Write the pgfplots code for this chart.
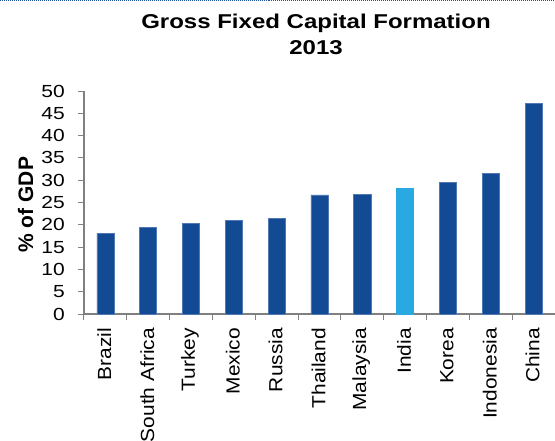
\documentclass[border=0pt]{standalone}
\usepackage{fontspec}
\setmainfont{Liberation Sans}
\newfontfamily\titlefont{Liberation Sans}[FakeStretch=1.2]
\newfontfamily\tickfont{Liberation Sans}[FakeStretch=1.2]
\newfontfamily\xlabfont{Liberation Sans}[FakeStretch=1.1]
\newfontfamily\ylabfont{Liberation Sans}[FakeStretch=1.0]
\usepackage{pgfplots}
\pgfplotsset{compat=1.18}
\definecolor{barblue}{RGB}{18,74,148}
\definecolor{baredge}{RGB}{80,120,180}
\definecolor{indiablue}{RGB}{41,169,225}
\definecolor{axgray}{RGB}{128,128,128}
\definecolor{dotblue}{RGB}{31,78,154}
\begin{document}
\begin{tikzpicture}
\path[use as bounding box] (-84bp,-127bp) rectangle (471bp,314bp);
\begin{axis}[
  scale only axis, width=471bp, height=223bp,
  xmin=-0.5, xmax=10.5, ymin=0, ymax=50,
  axis x line*=bottom, axis y line*=left,
  axis line style={-, draw=axgray, line width=1.2bp},
  tick align=outside, major tick length=6bp,
  tick style={draw=axgray, line width=1bp},
  ytick={0,5,...,50},
  yticklabel style={font=\tickfont\fontsize{17.5bp}{18bp}\selectfont, inner sep=0pt, xshift=-13bp},
  /pgf/number format/assume math mode=true,
  xtick={-0.5,0.5,...,10.5}, xticklabels={},
  extra x ticks={0,1,2,3,4,5,6,7,8,9,10},
  extra x tick labels={Brazil,South Africa,Turkey,Mexico,Russia,Thailand,Malaysia,India,Korea,Indonesia,China},
  extra x tick style={major tick length=0pt,
    xticklabel style={yshift=-14bp, xshift=-1bp, rotate=90, anchor=east, inner sep=0pt,
      font=\xlabfont\fontsize{19bp}{20bp}\selectfont}},
  ylabel={\bfseries\% of GDP},
  ylabel style={font=\ylabfont\fontsize{21bp}{22bp}\selectfont, at={(axis description cs:-0.124,0.49)}, anchor=center, rotate=0},
  title={\bfseries Gross Fixed Capital Formation\\\bfseries 2013},
  title style={font=\titlefont\fontsize{20bp}{26bp}\selectfont, align=center, at={(axis description cs:0.4926,1.229)}, anchor=center},
  ybar, bar shift=0pt, bar width=0.4,
  clip=false,
]
\addplot[fill=barblue, draw=baredge, line width=0.6bp] coordinates {
  (0,18.1) (1,19.35) (2,20.3) (3,21.0) (4,21.5) (5,26.7) (6,26.8) (8,29.5) (9,31.5) (10,47.2)
};
\addplot[fill=indiablue, draw=indiablue, line width=0.6bp] coordinates {
  (7,28.1)
};
\end{axis}
\draw[dotblue, densely dotted, line width=1bp] (-84bp,313.5bp) -- (471bp,313.5bp);
\end{tikzpicture}
\end{document}
